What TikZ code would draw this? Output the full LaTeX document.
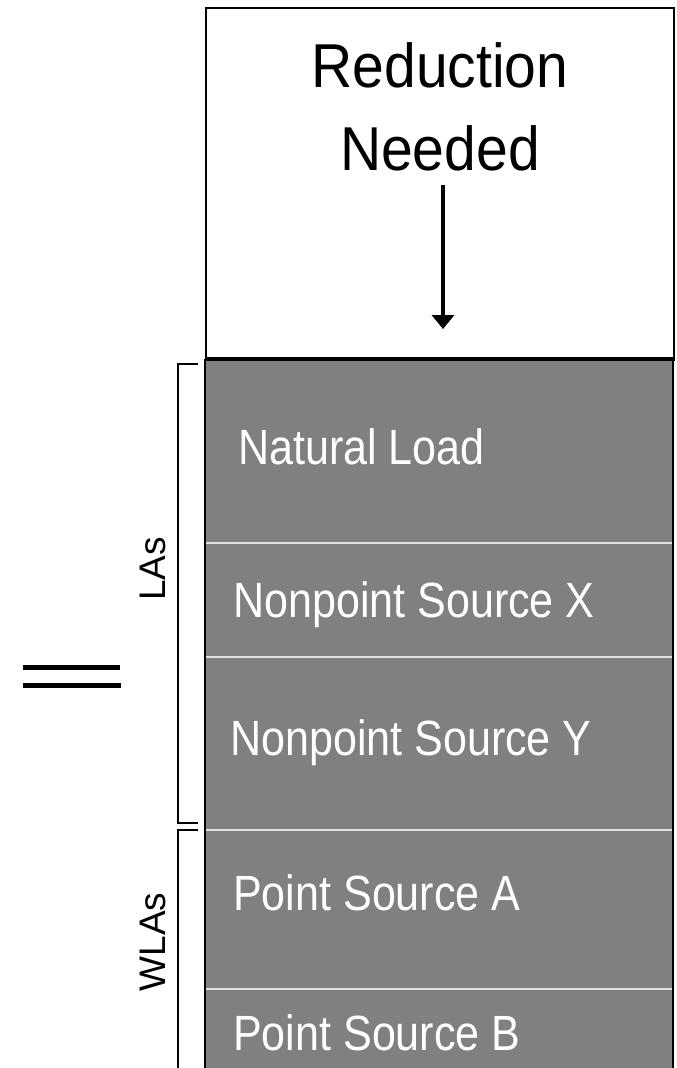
\documentclass[tikz,border=0pt]{standalone}
\usepackage{fontspec}
\setmainfont{Liberation Sans}
\usetikzlibrary{arrows.meta}
\definecolor{rowgray}{RGB}{128,128,128}
\definecolor{divline}{RGB}{225,225,225}
\begin{document}
\begin{tikzpicture}[x=1pt,y=1pt,
  rowbox/.style={draw=none,fill=rowgray,minimum width=468pt,inner sep=0pt,outer sep=0pt,anchor=north west},
  rowlabel/.style={text=white,font=\fontsize{49.5}{52}\selectfont,anchor=base west,inner sep=0pt},
  sidelabel/.style={font=\fontsize{37}{40}\selectfont,rotate=90,inner sep=0pt},
  bigtext/.style={font=\fontsize{62}{64}\selectfont,anchor=base,inner sep=0pt},
  divider/.style={draw=divline,line width=2pt},
  bracketline/.style={line width=1.5pt}]
\useasboundingbox (0,0) rectangle (677,-1068);
% top white box
\node[draw,line width=2pt,fill=white,minimum width=468pt,minimum height=352pt,inner sep=0pt,anchor=north west] (topbox) at (205,-7) {};
\node[bigtext] (red) at (440,-87) {\scalebox{0.92}[1]{Reduction}};
\node[bigtext] (need) at (440,-170) {\scalebox{0.92}[1]{Needed}};
\coordinate (arrs) at (443,-185);
\coordinate (arre) at (443,-329);
\draw[line width=4.5pt,-{Triangle[width=22pt,length=14pt]}] (arrs) -- (arre);
% gray rows
\node[rowbox,minimum height=184pt] (r1) at (205,-359) {};
\node[rowbox,minimum height=114pt] (r2) at (205,-543) {};
\node[rowbox,minimum height=173pt] (r3) at (205,-657) {};
\node[rowbox,minimum height=159pt] (r4) at (205,-830) {};
\node[rowbox,minimum height=79pt] (r5) at (205,-989) {};
\draw[divider] (r1.south west) -- (r1.south east);
\draw[divider] (r2.south west) -- (r2.south east);
\draw[divider] (r3.south west) -- (r3.south east);
\draw[divider] (r4.south west) -- (r4.south east);
% borders
\draw[line width=2pt] (r1.north west) -- (r5.south west);
\draw[line width=2pt] (r1.north east) -- (r5.south east);
\draw[line width=3.5pt] (r1.north west) -- (r1.north east);
% row labels
\node[rowlabel] (t1) at (238,-464) {\scalebox{0.87}[1]{Natural Load}};
\node[rowlabel] (t2) at (233,-617) {\scalebox{0.87}[1]{Nonpoint Source X}};
\node[rowlabel] (t3) at (230,-755) {\scalebox{0.87}[1]{Nonpoint Source Y}};
\node[rowlabel] (t4) at (233,-910) {\scalebox{0.87}[1]{Point Source A}};
\node[rowlabel] (t5) at (233,-1050) {\scalebox{0.87}[1]{Point Source B}};
% brackets
\coordinate (b1a) at (198,-364);
\coordinate (b1b) at (198,-823);
\coordinate (b2a) at (198,-830);
\coordinate (b2b) at (178,-1068);
\draw[bracketline] (b1a) -- (178,-364) -- (178,-823) -- (b1b);
\draw[bracketline] (b2a) -- (178,-830) -- (b2b);
\node[sidelabel] (las) at (153,-569) {LAs};
\node[sidelabel] (wlas) at (153,-942) {WLAs};
% equals sign
\coordinate (e1a) at (23,-667);
\coordinate (e1b) at (120,-667);
\coordinate (e2a) at (23,-685);
\coordinate (e2b) at (121,-685);
\draw[line width=5pt] (e1a) -- (e1b);
\draw[line width=5pt] (e2a) -- (e2b);
\end{tikzpicture}
\end{document}
